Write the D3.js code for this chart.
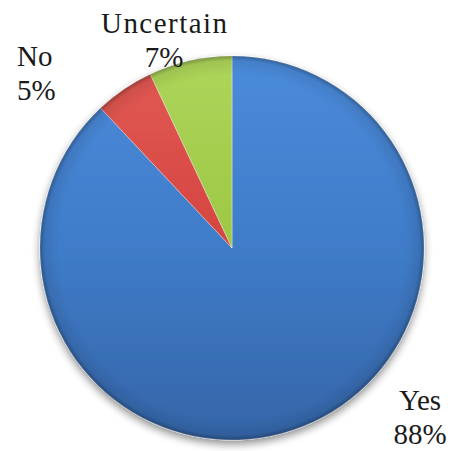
<!DOCTYPE html>
<html><head><meta charset="utf-8">
<script src="https://cdn.jsdelivr.net/npm/d3@7"></script>
<style>html,body{margin:0;padding:0;background:#fff;}svg{display:block;}
.lbl{font-family:"Liberation Serif","Times New Roman",Times,"DejaVu Serif",serif;}</style>
</head><body>
<script>
const categories = ["Yes", "No", "Uncertain"];
const values = [88, 5, 7];
const percentLabels = ["88%", "5%", "7%"];

const W = 451, H = 451;
const cx = 232, cy = 248, R = 192;
// label anchor points (text layout), relative to svg
const labelLayout = {
  "Yes": {x: 420, y: 410, anchor: "middle", len: null},
  "No": {x: 17, y: 66, anchor: "start", len: null},
  "Uncertain": {x: 164, y: 33, anchor: "middle", len: 126}
};
const gradStops = {
  "Yes": ["#4b8bdb", "#3f7cc8", "#3565a8"],
  "No": ["#e25a55", "#d4443f", "#bd3733"],
  "Uncertain": ["#aed55a", "#9cc744", "#8ab43a"]
};

const svg = d3.select("body").append("svg").attr("width", W).attr("height", H);
const defs = svg.append("defs");
const sh = defs.append("filter").attr("id", "shadow").attr("x", "-20%").attr("y", "-20%").attr("width", "140%").attr("height", "140%");
sh.append("feGaussianBlur").attr("in", "SourceAlpha").attr("stdDeviation", 4);
sh.append("feOffset").attr("dx", 0).attr("dy", 4).attr("result", "b");
sh.append("feComponentTransfer").append("feFuncA").attr("type", "linear").attr("slope", 0.45);
const m = sh.append("feMerge"); m.append("feMergeNode"); m.append("feMergeNode").attr("in", "SourceGraphic");

categories.forEach((c, i) => {
  const g = defs.append("linearGradient").attr("id", "g" + i)
    .attr("gradientUnits", "userSpaceOnUse")
    .attr("x1", 0).attr("y1", -R).attr("x2", 0).attr("y2", R);
  gradStops[c].forEach((col, j) => g.append("stop").attr("offset", j / 2).attr("stop-color", col));
});
const edge = defs.append("radialGradient").attr("id", "edge").attr("gradientUnits", "userSpaceOnUse")
  .attr("cx", 0).attr("cy", 0).attr("r", R);
edge.append("stop").attr("offset", 0.9).attr("stop-color", "#000").attr("stop-opacity", 0);
edge.append("stop").attr("offset", 0.975).attr("stop-color", "#000").attr("stop-opacity", 0.08);
edge.append("stop").attr("offset", 1).attr("stop-color", "#000").attr("stop-opacity", 0.3);

const pie = d3.pie().sort(null).value(d => d)(values);
const arc = d3.arc().innerRadius(0).outerRadius(R);

const g = svg.append("g").attr("transform", `translate(${cx},${cy})`);
const slices = g.append("g").attr("filter", "url(#shadow)");
slices.selectAll("path.s").data(pie).join("path").attr("class", "s")
  .attr("d", arc)
  .attr("fill", (d, i) => `url(#g${i})`)
  .attr("stroke", "#ffffff").attr("stroke-opacity", 0.35).attr("stroke-width", 1);
g.selectAll("path.e").data(pie).join("path").attr("class", "e")
  .attr("d", arc).attr("fill", "url(#edge)").attr("pointer-events", "none");

categories.forEach((c, i) => {
  const L = labelLayout[c];
  const t = svg.append("text").attr("class", "lbl").attr("x", L.x).attr("y", L.y)
    .attr("text-anchor", L.anchor)
    .attr("font-size", 29).attr("fill", "#1a1a1a");
  const t1 = t.append("tspan").attr("x", L.x).text(c);
  if (L.len) t1.attr("textLength", L.len).attr("lengthAdjust", "spacing");
  t.append("tspan").attr("x", L.x).attr("dy", 34).text(percentLabels[i]);
});
</script>
</body></html>
